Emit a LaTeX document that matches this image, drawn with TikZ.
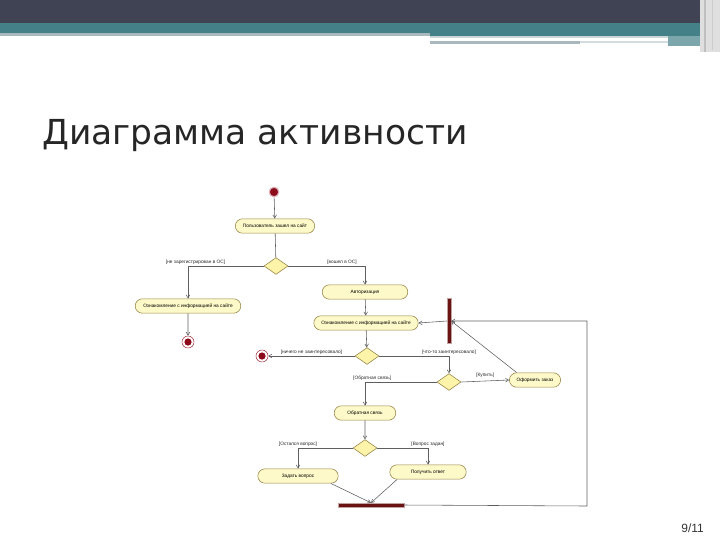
\documentclass[tikz,border=0pt]{standalone}
\usepackage{fontspec}
\setmainfont{Liberation Sans}
\newfontfamily\titlefont{DejaVu Sans}
\usetikzlibrary{shapes.geometric, shapes.misc, arrows.meta, positioning}
\definecolor{bandtop}{RGB}{63,67,84}
\definecolor{bandteal}{RGB}{67,128,135}
\definecolor{bandgray}{RGB}{168,184,188}
\definecolor{actfill}{RGB}{253,249,200}
\definecolor{actdraw}{RGB}{150,130,70}
\definecolor{decfill}{RGB}{253,244,170}
\definecolor{umlred}{RGB}{140,12,28}
\definecolor{barred}{RGB}{105,20,20}
\definecolor{flowgray}{RGB}{95,95,95}
\tikzset{
  act/.style={rounded rectangle, draw=actdraw, fill=actfill, line width=0.4pt,
              minimum height=0.36cm, inner xsep=2pt, inner ysep=1pt,
              font=\fontsize{3.4}{4}\selectfont},
  dec/.style={diamond, draw=actdraw, fill=decfill, line width=0.4pt,
              minimum width=0.6cm, minimum height=0.42cm, inner sep=0pt},
  startdot/.style={circle, fill=umlred, draw=umlred!30, line width=0.8pt,
                   minimum size=0.24cm, inner sep=0pt},
  enddot/.style={circle, draw=umlred!80, fill=white, line width=0.4pt,
                 minimum size=0.3cm, inner sep=0pt,
                 path picture={\fill[umlred] (path picture bounding box.center) circle (0.09cm);}},
  sync/.style={rectangle, fill=barred, draw=barred!40, line width=0.3pt, inner sep=0pt},
  guard/.style={font=\fontsize{3.4}{4}\selectfont, text=black!85, inner sep=0.6pt},
}

\begin{document}
\begin{tikzpicture}[
  x=0.025cm, y=-0.025cm,
  line/.style={draw=flowgray, line width=0.4pt, -{Straight Barb[length=2.2pt, width=2.6pt]}},
  plain/.style={draw=flowgray, line width=0.4pt}
]
  \useasboundingbox (0,0) rectangle (720,540);
  % slide frame
  \fill[bandtop] (0,0) rectangle (720,23);
  \fill[bandteal] (0,23) rectangle (700,33);
  \fill[bandgray] (0,33) rectangle (430,36);
  \fill[bandteal] (430,33) rectangle (700,36);
  \fill[bandgray!60] (430,36) rectangle (668,38);
  \fill[bandgray] (430,41) rectangle (580,44);
  \fill[bandgray!50] (580,41) rectangle (668,43);
  \fill[bandteal!70] (668,36) rectangle (700,46);
  \fill[gray!25] (700,0) rectangle (720,52);
  \fill[gray!50] (704,0) rectangle (706,52);
  \fill[gray!40] (712,0) rectangle (713,50);

  \node[anchor=west, inner sep=0pt, text=black!85,
        font=\titlefont\fontsize{24.5}{30}\selectfont] (title) at (42,136) {Диаграмма активности};
  \node[anchor=east, inner sep=0pt, text=black!80,
        font=\fontsize{8.5}{10}\selectfont] (pagenum) at (704,528) {9/11};

  % activity diagram
  \node[startdot] (start) at (274,192) {};
  \node[act, minimum width=2.125cm] (visit) at (275,226) {Пользователь зашел на сайт};
  \node[dec] (d1) at (276,266) {};
  \node[act, minimum width=2.78cm] (browseA) at (188,306) {Ознакомление с информацией на сайте};
  \node[enddot] (endA) at (188,342) {};
  \node[act, minimum width=2.28cm] (auth) at (365,292) {Авторизация};
  \node[act, minimum width=2.75cm] (browse) at (366,323) {Ознакомление с информацией на сайте};
  \node[sync, minimum width=0.1cm, minimum height=1.12cm] (fork) at (449,321) {};
  \node[dec] (d2) at (367,356) {};
  \node[enddot] (endB) at (262,356) {};
  \node[dec] (d3) at (449,382) {};
  \node[act, minimum width=1.42cm] (order) at (535,380) {Оформить заказ};
  \node[act, minimum width=1.68cm] (feedback) at (365,413) {Обратная связь};
  \node[dec] (d4) at (365,448) {};
  \node[act, minimum width=2.15cm] (ask) at (298,476) {Задать вопрос};
  \node[act, minimum width=2.05cm] (answer) at (428,472) {Получить ответ};
  \node[sync, minimum width=1.65cm, minimum height=0.1cm] (join) at (371,505) {};
  \coordinate (loopR) at (587,506);

  \draw[line] (start) -- (visit);
  \draw[plain] (visit) -- (d1);
  \draw[line] (d1.west) -| node[guard, pos=0.45, above] {[не зарегистрирован в ОС]} (browseA.north);
  \draw[line] (d1.east) -| node[guard, pos=0.35, above] {[вошел в ОС]} (auth.north);
  \draw[line] (browseA) -- (endA);
  \draw[line] (auth) -- (browse);
  \draw[line] (browse) -- (d2);
  \draw[line] (d2.west) -- node[guard, above] {[ничего не заинтересовало]} (endB);
  \draw[line] (d2.east) -| node[guard, pos=0.5, above] {[что-то заинтересовало]} (d3.north);
  \draw[line] (d3.west) -| node[guard, pos=0.45, above] {[Обратная связь]} (feedback.north);
  \draw[line] (d3.east) -- node[guard, above=2pt] {[Купить]} (order.west);
  \draw[line] (order.north west) -- (fork.east);
  \draw[line] (fork.west) -- (browse.east);
  \draw[line] (feedback) -- (d4);
  \draw[line] (d4.west) -| node[guard, pos=0.5, above] {[Остался вопрос]} (ask.north);
  \draw[line] (d4.east) -| node[guard, pos=0.5, above] {[Вопрос задан]} (answer.north);
  \draw[line] (ask.south east) -- (join.north);
  \draw[line] (answer.south west) -- (join.north);
  \draw[line] (join.east) -- (loopR) |- (fork.east);
\end{tikzpicture}
\end{document}
